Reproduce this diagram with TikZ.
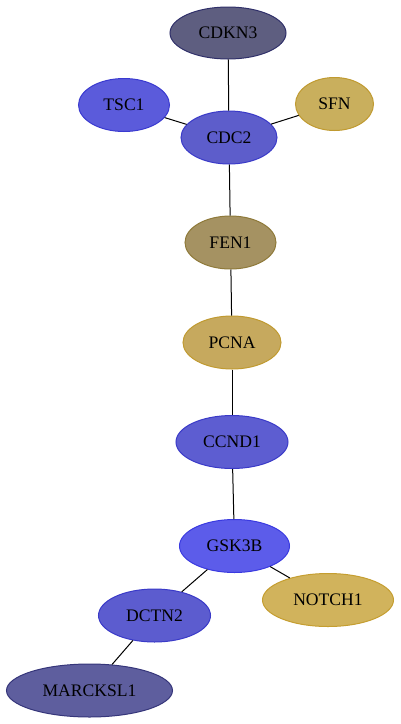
\documentclass[tikz,border=0pt]{standalone}
\usepackage{fontspec}
\setmainfont{Liberation Serif}
\usetikzlibrary{shapes.geometric}
\definecolor{cCDKN3}{HTML}{5E5E80}\definecolor{bCDKN3}{HTML}{30306A}
\definecolor{cTSC1}{HTML}{5B5BDB}\definecolor{bTSC1}{HTML}{3A3AD0}
\definecolor{cCDC2}{HTML}{5D5DCB}\definecolor{bCDC2}{HTML}{3A3AC8}
\definecolor{cSFN}{HTML}{C9AF5D}\definecolor{bSFN}{HTML}{C09A30}
\definecolor{cFEN1}{HTML}{A59262}\definecolor{bFEN1}{HTML}{8F7A3A}
\definecolor{cPCNA}{HTML}{C6A95E}\definecolor{bPCNA}{HTML}{C09A30}
\definecolor{cCCND1}{HTML}{5D5DD1}\definecolor{bCCND1}{HTML}{3A3AC8}
\definecolor{cGSK3B}{HTML}{5C5CEA}\definecolor{bGSK3B}{HTML}{3A3AE0}
\definecolor{cNOTCH1}{HTML}{D1B35C}\definecolor{bNOTCH1}{HTML}{C59E30}
\definecolor{cDCTN2}{HTML}{5C5CCF}\definecolor{bDCTN2}{HTML}{3A3AC8}
\definecolor{cMARCKSL1}{HTML}{5E5E9E}\definecolor{bMARCKSL1}{HTML}{36367A}
\tikzset{
  gene/.style={ellipse, inner sep=0pt, line width=1pt, font=\fontsize{17.6}{20}\selectfont, text=black},
  edge/.style={draw=black, line width=1pt}
}
\newcommand{\gnode}[6]{\node[gene, fill=c#1, draw=b#1, minimum width=#4pt, minimum height=#5pt] (#1) at (#2,#3) {#6};}
\begin{document}
\begin{tikzpicture}[x=1pt,y=-1pt]
\useasboundingbox (0,0) rectangle (400,724);
\gnode{CDKN3}{228}{33}{116}{52}{CDKN3}
\gnode{TSC1}{124}{105}{91}{53}{TSC1}
\gnode{SFN}{334.5}{104}{78}{53}{SFN}
\gnode{CDC2}{229}{137.5}{96}{53}{CDC2}
\gnode{FEN1}{230.5}{242.5}{91}{53}{FEN1}
\gnode{PCNA}{232}{342.5}{98}{53}{PCNA}
\gnode{CCND1}{232}{442}{112}{53}{CCND1}
\gnode{GSK3B}{234.5}{546}{110}{53}{GSK3B}
\gnode{NOTCH1}{328}{600}{131}{53}{NOTCH1}
\gnode{DCTN2}{154.5}{615.5}{112}{53}{DCTN2}
\gnode{MARCKSL1}{89.5}{690.5}{166}{53}{MARCKSL1}
\draw[edge] (CDKN3) -- (CDC2);
\draw[edge] (TSC1) -- (CDC2);
\draw[edge] (SFN) -- (CDC2);
\draw[edge] (CDC2) -- (FEN1);
\draw[edge] (FEN1) -- (PCNA);
\draw[edge] (PCNA) -- (CCND1);
\draw[edge] (CCND1) -- (GSK3B);
\draw[edge] (GSK3B) -- (NOTCH1);
\draw[edge] (GSK3B) -- (DCTN2);
\draw[edge] (DCTN2) -- (MARCKSL1);
\end{tikzpicture}
\end{document}
